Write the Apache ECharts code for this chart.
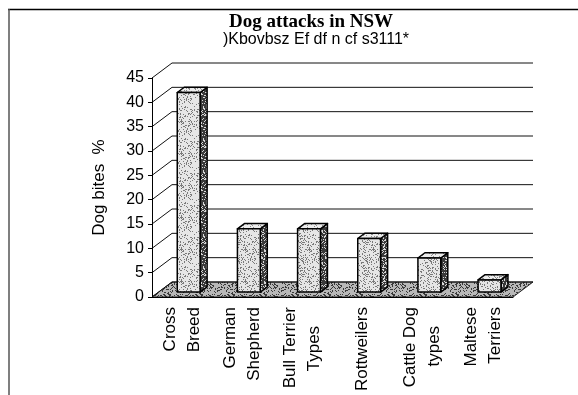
<!DOCTYPE html>
<html>
<head>
<meta charset="utf-8">
<script src="https://cdn.jsdelivr.net/npm/echarts@6/dist/echarts.min.js"></script>
<style>
  html, body { margin: 0; padding: 0; background: #fff; }
  #chart { width: 578px; height: 395px; }
</style>
</head>
<body>
<div id="chart"></div>
<script>
// Chart content
const chartTitle = 'Dog attacks in NSW';
const chartSubtitle = ')Kbovbsz Ef df n cf s3111*';
const valueAxisName = 'Dog bites  %';
const breeds = ['Cross\nBreed', 'German\nShepherd', 'Bull Terrier\nTypes    ', 'Rottweilers', 'Cattle Dog\ntypes    ', 'Maltese\nTerriers'];
const biteShare = [41, 13, 13, 11, 7, 2.5];
const valueTicks = [0, 5, 10, 15, 20, 25, 30, 35, 40, 45];

// 3D box geometry (pixel offset of the back wall, and where a column sits in depth)
const DEPTH_X = 20, DEPTH_Y = 15;
const BAR_DEPTH_FRONT = 0.33, BAR_DEPTH_BACK = 0.68;
const BAR_WIDTH_RATIO = 0.38;
const FONT = '"Liberation Sans", Arial, sans-serif';

// Stippled fill textures (deterministic dot scatter)
function speckle(base, dot, density, seed, size) {
  const c = document.createElement('canvas');
  c.width = c.height = size;
  const ctx = c.getContext('2d');
  ctx.fillStyle = base;
  ctx.fillRect(0, 0, size, size);
  ctx.fillStyle = dot;
  let s = seed >>> 0;
  const n = Math.round(size * size * density);
  for (let k = 0; k < n; k++) {
    s = (Math.imul(s, 1103515245) + 12345) >>> 0;
    const x = (s >>> 16) % size;
    s = (Math.imul(s, 1103515245) + 12345) >>> 0;
    const y = (s >>> 16) % size;
    ctx.fillRect(x, y, 1, 1);
  }
  return { image: c, repeat: 'repeat' };
}
const frontFill = speckle('#e6e6e6', '#7a7a7a', 0.22, 7, 32);
const sideFill = speckle('#3a3a3a', '#d8d8d8', 0.3, 11, 32);
const topFill = speckle('#ececec', '#8a8a8a', 0.18, 3, 32);
const floorFill = speckle('#b8b8b8', '#3a3a3a', 0.3, 19, 32);

// Back wall grid lines, left wall connectors and the floor
function renderWalls(params, api) {
  const cs = params.coordSys;
  const v = api.value(1);
  const y = api.coord([0, v])[1];
  const x0 = cs.x, x1 = cs.x + cs.width;
  const children = [];
  if (v === 0) {
    children.push({
      type: 'polygon',
      shape: { points: [[x0, y], [x1, y], [x1 + DEPTH_X, y - DEPTH_Y], [x0 + DEPTH_X, y - DEPTH_Y]] },
      style: { fill: floorFill, stroke: '#222', lineWidth: 1 }
    });
  }
  children.push({
    type: 'polyline',
    shape: { points: [[x0, y], [x0 + DEPTH_X, y - DEPTH_Y], [x1 + DEPTH_X, y - DEPTH_Y]] },
    style: { fill: null, stroke: '#111', lineWidth: 1 }
  });
  return { type: 'group', children };
}

// Columns drawn as boxes: front face, right side and top
function renderBars(params, api) {
  const i = api.value(0), v = api.value(1);
  const base = api.coord([i, 0]);
  const top = api.coord([i, v]);
  const band = api.size([1, 0])[0];
  const w = band * BAR_WIDTH_RATIO;
  const fx = DEPTH_X * BAR_DEPTH_FRONT, fy = DEPTH_Y * BAR_DEPTH_FRONT;
  const sx = DEPTH_X * (BAR_DEPTH_BACK - BAR_DEPTH_FRONT);
  const sy = DEPTH_Y * (BAR_DEPTH_BACK - BAR_DEPTH_FRONT);
  const xl = base[0] - w / 2 + fx, xr = xl + w;
  const yb = base[1] - fy, yt = top[1] - fy;
  const edge = { stroke: '#000', lineWidth: 1.5, lineJoin: 'round' };
  return {
    type: 'group',
    children: [
      { type: 'polygon', shape: { points: [[xr, yb], [xr, yt], [xr + sx, yt - sy], [xr + sx, yb - sy]] },
        style: Object.assign({ fill: sideFill }, edge) },
      { type: 'polygon', shape: { points: [[xl, yt], [xr, yt], [xr + sx, yt - sy], [xl + sx, yt - sy]] },
        style: Object.assign({ fill: topFill }, edge) },
      { type: 'rect', shape: { x: xl, y: yt, width: w, height: yb - yt },
        style: Object.assign({ fill: frontFill }, edge) }
    ]
  };
}

const chart = echarts.init(document.getElementById('chart'), null, { renderer: 'canvas' });
chart.setOption({
  animation: false,
  backgroundColor: '#fff',
  graphic: [
    { type: 'line', shape: { x1: 8, y1: 9.5, x2: 578, y2: 9.5 }, style: { stroke: '#000', lineWidth: 1.5 } },
    { type: 'line', shape: { x1: 9, y1: 9, x2: 9, y2: 395 }, style: { stroke: '#555', lineWidth: 1.5 } },
    { type: 'text', x: 311, y: 22, style: { text: chartTitle, font: 'bold 19px "Liberation Serif", "Times New Roman", serif', fill: '#000', align: 'center', verticalAlign: 'middle' } },
    { type: 'text', x: 316, y: 40, style: { text: chartSubtitle, font: '16px ' + FONT, fill: '#000', align: 'center', verticalAlign: 'middle' } }
  ],
  grid: { left: 152, top: 78, width: 361, height: 219, containLabel: false },
  xAxis: {
    type: 'category',
    data: breeds,
    z: 10,
    axisLine: { lineStyle: { color: '#000', width: 1 } },
    axisTick: { length: 4, lineStyle: { color: '#000' } },
    axisLabel: { interval: 0, rotate: 90, margin: 10, fontSize: 17, lineHeight: 24, color: '#000', fontFamily: FONT },
    splitLine: { show: false }
  },
  yAxis: {
    type: 'value',
    min: 0,
    max: 45,
    interval: 5,
    z: 10,
    name: valueAxisName,
    nameLocation: 'middle',
    nameRotate: 90,
    nameGap: 44,
    nameTextStyle: { fontSize: 17, color: '#000', fontFamily: FONT },
    axisLine: { show: true, lineStyle: { color: '#000', width: 1 } },
    axisTick: { show: true, length: 4, lineStyle: { color: '#000' } },
    axisLabel: { margin: 8, fontSize: 16, color: '#000', fontFamily: FONT },
    splitLine: { show: false }
  },
  series: [
    {
      type: 'custom',
      name: 'walls',
      renderItem: renderWalls,
      data: valueTicks.map(v => [0, v]),
      encode: { x: 0, y: 1 },
      silent: true,
      z: 1
    },
    {
      type: 'custom',
      name: 'Dog bites',
      renderItem: renderBars,
      data: biteShare.map((v, i) => [i, v]),
      encode: { x: 0, y: 1 },
      z: 3
    }
  ]
});
</script>
</body>
</html>
